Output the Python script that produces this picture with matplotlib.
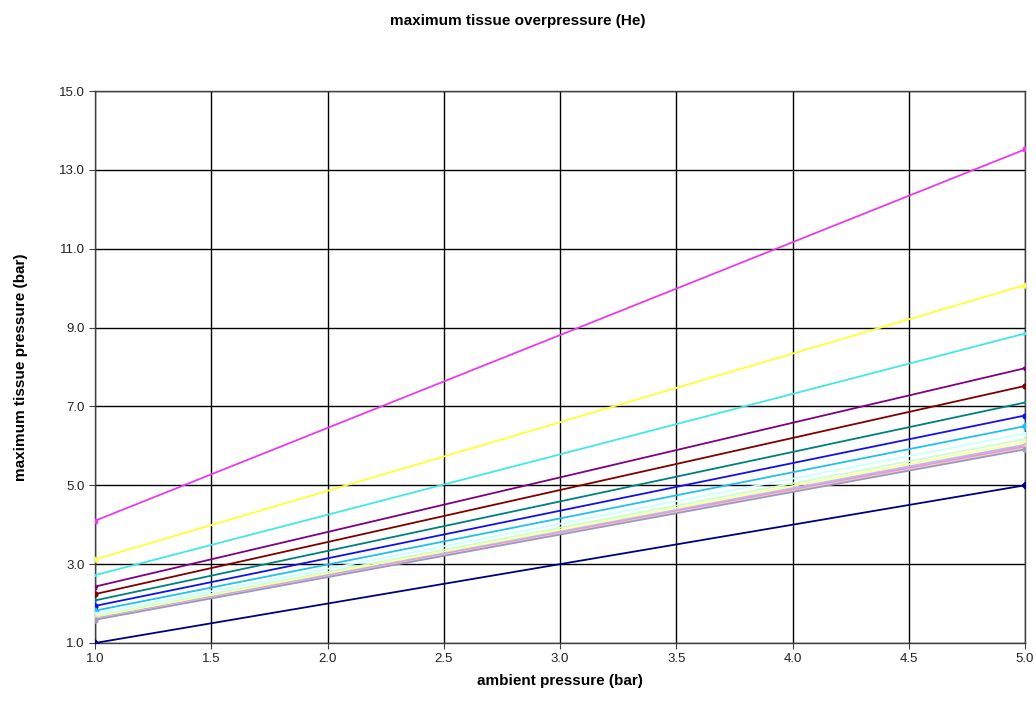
import numpy as np
import matplotlib
matplotlib.use("Agg")
import matplotlib.pyplot as plt

# ambient pressure at the two ends of each line (bar)
ambient = [1.0, 5.0]

# maximum tissue pressure at ambient 1.0 and 5.0 bar, per series
series_names = ["ambient", "c1", "c2", "c3", "c4", "c5", "c6", "c7", "c8",
                "c9", "c10", "c11", "c12", "c13", "c14", "c15", "c16"]
start_vals = [1.00, 4.10, 3.12, 2.72, 2.43, 2.24, 2.08, 1.94, 1.82,
              1.74, 1.68, 1.65, 1.62, 1.61, 1.61, 1.60, 1.59]
end_vals = [5.00, 13.52, 10.08, 8.85, 7.97, 7.52, 7.10, 6.77, 6.50,
            6.31, 6.17, 6.09, 6.03, 6.00, 5.97, 5.94, 5.91]

colors = ["#000080", "#E83CE8", "#FFFF33", "#40E8E8", "#800080", "#800000",
          "#008080", "#1010F0", "#20C0F0", "#CCFFFF", "#CCFFCC", "#FFFF99",
          "#99CCFF", "#FF99CC", "#CC99FF", "#FFCC99", "#9999CC"]
markers = ["D", "s", "^", "x", "*", "o", "+", "o", "D", "s", "^", "x",
           "*", "o", "+", "D", "s"]

x_ticks = [1.0, 1.5, 2.0, 2.5, 3.0, 3.5, 4.0, 4.5, 5.0]
y_ticks = [1.0, 3.0, 5.0, 7.0, 9.0, 11.0, 13.0, 15.0]

plt.rcParams['font.family'] = ['Liberation Sans', 'DejaVu Sans']

fig = plt.figure(figsize=(10.36, 7.15), dpi=100)
ax = fig.add_axes([0.0917, 0.1007, 0.8977, 0.772])

for name, y0, y1, c, m in zip(series_names, start_vals, end_vals, colors, markers):
    ax.plot(ambient, [y0, y1], color=c, lw=1.3, marker=m, markersize=3.5,
            markeredgewidth=1, label=name, zorder=3)

ax.set_xlim(1.0, 5.0)
ax.set_ylim(1.0, 15.0)
ax.set_xticks(x_ticks)
ax.set_yticks(y_ticks)
ax.set_xticklabels([f"{v:.1f}" for v in x_ticks])
ax.set_yticklabels([f"{v:.1f}" for v in y_ticks])
ax.grid(True, color='black', lw=1)
ax.set_axisbelow(True)
for s in ax.spines.values():
    s.set_color('#404040')
    s.set_linewidth(1)
ax.tick_params(axis='both', labelsize=9.5, length=4, color='#404040',
               labelcolor='#222222')

ax.set_xlabel("ambient pressure (bar)", fontsize=11, fontweight='bold', labelpad=6)
ax.set_ylabel("maximum tissue pressure (bar)", fontsize=11, fontweight='bold', labelpad=22)
fig.text(0.5, 0.97, "maximum tissue overpressure (He)", ha='center', va='center',
         fontsize=11, fontweight='bold')

fig.savefig("out.png", dpi=100)
